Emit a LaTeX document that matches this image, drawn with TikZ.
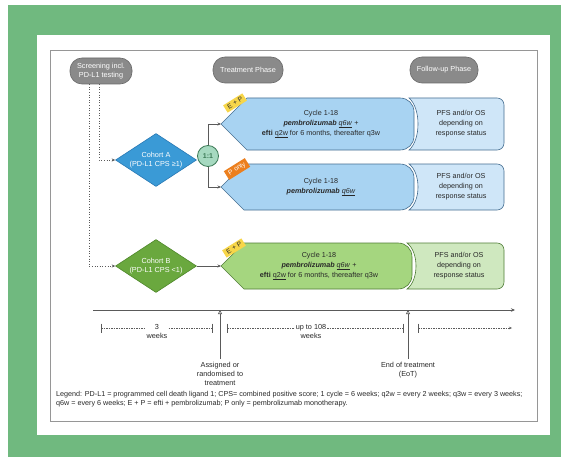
\documentclass[tikz,border=0pt]{standalone}
\usepackage{fontspec}
\setmainfont{Liberation Sans}
\usetikzlibrary{shapes.geometric,shapes.misc,arrows.meta,calc}
\definecolor{bggreen}{RGB}{112,185,127}
\definecolor{pillgrey}{RGB}{138,138,138}
\definecolor{pillborder}{RGB}{105,105,105}
\definecolor{diaA}{RGB}{58,154,214}
\definecolor{diaAb}{RGB}{40,120,180}
\definecolor{diaB}{RGB}{106,168,62}
\definecolor{diaBb}{RGB}{78,135,42}
\definecolor{trtA}{RGB}{168,211,242}
\definecolor{trtAb}{RGB}{70,110,145}
\definecolor{fuA}{RGB}{207,230,248}
\definecolor{trtB}{RGB}{165,214,127}
\definecolor{trtBb}{RGB}{80,125,55}
\definecolor{fuB}{RGB}{207,232,191}
\definecolor{tagyel}{RGB}{247,214,74}
\definecolor{tagora}{RGB}{236,127,30}
\definecolor{randfill}{RGB}{166,217,192}
\definecolor{randb}{RGB}{60,122,86}
\definecolor{linegrey}{RGB}{90,90,90}
\definecolor{framegrey}{RGB}{150,150,150}
\definecolor{txt}{RGB}{40,40,40}
\newsavebox\ulbox
\newcommand\myul[1]{\leavevmode\sbox\ulbox{#1}\rlap{\raisebox{-1.2pt}{\rule{\wd\ulbox}{0.35pt}}}\usebox\ulbox}
\begin{document}
\begin{tikzpicture}[x=1pt,y=-1pt,
  pill/.style={rectangle, rounded corners=12pt, fill=pillgrey, draw=pillborder, line width=0.6pt,
    text=white, font=\fontsize{7.3}{8.8}\selectfont, align=center, minimum height=26pt, inner xsep=1pt},
  dia/.style={diamond, aspect=1.53, inner sep=0pt, minimum width=81pt, minimum height=53pt,
    text=white, font=\fontsize{7.3}{8.8}\selectfont, align=center, line width=0.6pt},
  boxtext/.style={text=txt, font=\fontsize{7.2}{10}\selectfont, align=center},
  tagbox/.style={font=\fontsize{6.6}{7.5}\selectfont, inner xsep=3pt, inner ysep=2pt, rotate=32},
  arr/.style={draw=linegrey, line width=0.6pt, -{Stealth[length=3.5pt,width=3pt]}},
  dotarr/.style={draw=linegrey, line width=0.6pt, dotted, -{Stealth[length=3.5pt,width=3pt]}},
  ivline/.style={draw=linegrey, line width=0.5pt, dash pattern=on 1.5pt off 1pt},
  tltext/.style={text=txt, font=\fontsize{7.3}{9}\selectfont, align=center},
  ]
\useasboundingbox (0,0) rectangle (561,457);
\fill[white] (0,0) rectangle (561,457);
\fill[bggreen] (8,5) rectangle (561,457);
\fill[white] (37,35) rectangle (550,435);
\draw[framegrey, line width=0.8pt] (50,50) rectangle (537,421);

% phase headers
\node[pill, minimum width=62pt] (scr) at (101,71) {Screening incl.\\PD-L1 testing};
\node[pill, minimum width=70pt] (trt) at (248,70) {Treatment Phase};
\node[pill, minimum width=68pt] (fup) at (444,70) {Follow-up Phase};

% cohorts
\node[dia, fill=diaA, draw=diaAb] (coA) at (156,160) {Cohort A\\(PD-L1 CPS ≥1)};
\node[dia, fill=diaB, draw=diaBb] (coB) at (156,266) {Cohort B\\(PD-L1 CPS <1)};
\node[circle, fill=randfill, draw=randb, line width=0.8pt, minimum size=21pt, inner sep=0pt,
  text=randb, font=\fontsize{7}{7}\selectfont\bfseries] (rand) at (208,156) {1:1};

% treatment shapes
\filldraw[fill=trtA, draw=trtAb, line width=0.6pt] (221,124) -- (247,98) -- (400,98) .. controls (408,98) and (414,104) .. (414,112) -- (414,136) .. controls (414,144) and (408,150) .. (400,150) -- (247,150) -- cycle;
\filldraw[fill=fuA, draw=trtAb, line width=0.6pt] (409,98) -- (497,98) .. controls (501,98) and (504,101) .. (504,105) -- (504,143) .. controls (504,147) and (501,150) .. (497,150) -- (409,150) .. controls (421,140) and (421,108) .. (409,98) -- cycle;
\filldraw[fill=trtA, draw=trtAb, line width=0.6pt] (221,187) -- (244,164) -- (400,164) .. controls (408,164) and (414,170) .. (414,178) -- (414,196) .. controls (414,204) and (408,210) .. (400,210) -- (244,210) -- cycle;
\filldraw[fill=fuA, draw=trtAb, line width=0.6pt] (409,164) -- (497,164) .. controls (501,164) and (504,167) .. (504,171) -- (504,203) .. controls (504,207) and (501,210) .. (497,210) -- (409,210) .. controls (421,201) and (421,173) .. (409,164) -- cycle;
\filldraw[fill=trtB, draw=trtBb, line width=0.6pt] (221,266) -- (244,243) -- (398,243) .. controls (406,243) and (412,249) .. (412,257) -- (412,275) .. controls (412,283) and (406,289) .. (398,289) -- (244,289) -- cycle;
\filldraw[fill=fuB, draw=trtBb, line width=0.6pt] (407,243) -- (497,243) .. controls (501,243) and (504,246) .. (504,250) -- (504,282) .. controls (504,286) and (501,289) .. (497,289) -- (407,289) .. controls (419,280) and (419,252) .. (407,243) -- cycle;

\coordinate (pA1) at (221,124);
\coordinate (pA2) at (221,187);
\coordinate (pB) at (221,266);

\node[boxtext] (tA1) at (321,124) {Cycle 1-18\\\textbf{\textit{pembrolizumab}} \myul{\textit{q6w}} +\\\textbf{efti} \myul{q2w} for 6 months, thereafter q3w};
\node[boxtext] (tA2) at (321,187) {Cycle 1-18\\\textbf{\textit{pembrolizumab}} \myul{\textit{q6w}}};
\node[boxtext] (tB) at (319,266) {Cycle 1-18\\\textbf{\textit{pembrolizumab}} \myul{\textit{q6w}} +\\\textbf{efti} \myul{q2w} for 6 months, thereafter q3w};
\node[boxtext] (fA1) at (461,124) {PFS and/or OS\\depending on\\response status};
\node[boxtext] (fA2) at (461,187) {PFS and/or OS\\depending on\\response status};
\node[boxtext] (fB) at (459,266) {PFS and/or OS\\depending on\\response status};

% tags
\node[tagbox, fill=tagyel, text=txt] (tg1) at (235,103) {E\kern2pt+\kern2pt P};
\node[tagbox, fill=tagora, text=white] (tg2) at (237,169) {P\kern2.2pt only};
\node[tagbox, fill=tagyel, text=txt] (tg3) at (234,248) {E\kern2pt+\kern2pt P};

% connectors
\draw[dotarr] ($(scr.south)+(-2,0)$) |- (coA.west);
\draw[dotarr] ($(scr.south)+(-12,0)$) |- (coB.west);
\draw[arr] (rand.north) |- (pA1);
\draw[arr] (rand.south) |- (pA2);
\draw[arr] (coB.east) -- (pB);

% timeline
\coordinate (ax0) at (93,310);
\coordinate (ax1) at (515,310);
\draw[draw=linegrey, line width=0.8pt, -{Stealth[length=4pt,width=3.5pt]}] (ax0) -- (ax1);
\node[tltext, anchor=north] (asg) at (220,359) {Assigned or\\randomised to\\treatment};
\node[tltext, anchor=north] (eot) at (408,359) {End of treatment\\(EoT)};
\draw[draw=linegrey, line width=0.6pt, -{Triangle[open,length=4pt,width=4pt]}] (asg.north) -- (asg.north |- ax0);
\draw[draw=linegrey, line width=0.6pt, -{Triangle[open,length=4pt,width=4pt]}] (eot.north) -- (eot.north |- ax0);

\coordinate (i1a) at (101,328); \coordinate (i1b) at (212,328);
\coordinate (i2a) at (227,328); \coordinate (i2b) at (403,328);
\coordinate (i3a) at (418,328); \coordinate (i3b) at (512,328);
\draw[ivline] (i1a) -- (i1b);
\draw[ivline] (i2a) -- (i2b);
\draw[ivline, -{Stealth[length=3pt,width=2.5pt]}] (i3a) -- (i3b);
\foreach \p in {i1a,i1b,i2a,i2b,i3a} \draw[linegrey, line width=0.6pt] ($(\p)+(0,-4.5)$) -- ($(\p)+(0,4.5)$);
\node[tltext, fill=white, inner sep=1pt] (w1) at (157,331) {3\\weeks};
\node[tltext, fill=white, inner sep=1pt] (w2) at (311,331) {up to 108\\weeks};

% legend
\node[anchor=north west, text=txt, font=\fontsize{7.2}{9}\selectfont, align=left, inner sep=0pt] (leg) at (56,391)
 {Legend: PD-L1 = programmed cell death ligand 1; CPS= combined positive score; 1 cycle = 6 weeks; q2w = every 2 weeks; q3w = every 3 weeks;\\
 q6w = every 6 weeks; E + P = efti + pembrolizumab; P only = pembrolizumab monotherapy.};
\end{tikzpicture}
\end{document}
